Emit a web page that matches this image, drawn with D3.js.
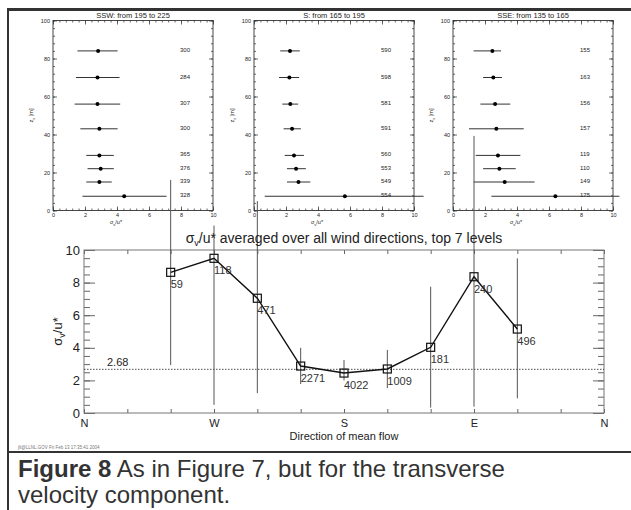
<!DOCTYPE html>
<html>
<head>
<meta charset="utf-8">
<script src="https://cdn.jsdelivr.net/npm/d3@7"></script>
<style>
  html, body { margin: 0; padding: 0; background: #fff; }
  svg { display: block; font-family: "Liberation Sans", Arial, Helvetica, sans-serif; }
</style>
</head>
<body>
<svg id="fig" width="631" height="510"></svg>
<script>
// ---- Main chart: sigma_v/u* versus direction of mean flow ----
const compassTicks = [360, 270, 180, 90, 0];
const compassLabels = ["N", "W", "S", "E", "N"];
const directions = [300, 270, 240, 210, 180, 150, 120, 90, 60];
const sigmaRatio = [8.63, 9.49, 7.04, 2.88, 2.45, 2.70, 4.03, 8.36, 5.15];
const sampleCounts = [59, 118, 471, 2271, 4022, 1009, 181, 240, 496];
const spreadLow = [2.94, 0.50, 1.22, 1.78, 2.00, 1.53, 0.33, 0.39, 0.90];
const spreadHigh = [14.3, 11.5, 13.0, 4.00, 3.25, 3.87, 7.75, 17.0, 9.49];
const overallMean = 2.68;
const yTicksMain = [0, 2, 4, 6, 8, 10];

// ---- Profile panels: sigma_v/u* at each measuring height ----
const panelTitles = ["SSW: from 195 to 225", "S: from 165 to 195", "SSE: from 135 to 165"];
const heights = [84, 70, 56, 43, 29, 22, 15, 7.5];
const sswMean = [2.82, 2.78, 2.78, 2.90, 2.90, 2.98, 2.90, 4.45];
const sswLow  = [1.53, 1.43, 1.35, 1.71, 2.08, 2.16, 2.08, 1.84];
const sswHigh = [4.04, 4.16, 4.20, 4.04, 3.80, 3.80, 3.67, 7.10];
const sswCount = [300, 284, 307, 300, 365, 376, 339, 328];
const sMean = [2.25, 2.21, 2.27, 2.38, 2.50, 2.63, 2.78, 5.68];
const sLow  = [1.64, 1.56, 1.77, 1.85, 1.92, 2.06, 2.06, 0.67];
const sHigh = [2.86, 2.82, 2.76, 2.93, 3.12, 3.24, 3.52, 10.6];
const sCount = [590, 598, 581, 591, 560, 553, 549, 554];
const sseMean = [2.46, 2.52, 2.63, 2.71, 2.81, 2.90, 3.23, 6.40];
const sseLow  = [1.29, 1.88, 1.71, 1.00, 1.42, 1.88, 1.29, 2.40];
const sseHigh = [3.00, 3.06, 3.58, 4.42, 4.21, 3.92, 5.10, 10.4];
const sseCount = [155, 163, 156, 157, 119, 110, 149, 175];
const panelXTicks = [0, 2, 4, 6, 8, 10];
const panelYTicks = [0, 20, 40, 60, 80, 100];

const svg = d3.select("#fig");
const ink = "#222";

svg.append("rect").attr("x", 0).attr("y", 0).attr("width", 631).attr("height", 510).attr("fill", "#fff");

// ---------- profile panels ----------
const panels = [
  { title: panelTitles[0], mean: sswMean, low: sswLow, high: sswHigh, count: sswCount, x0: 53 },
  { title: panelTitles[1], mean: sMean, low: sLow, high: sHigh, count: sCount, x0: 254 },
  { title: panelTitles[2], mean: sseMean, low: sseLow, high: sseHigh, count: sseCount, x0: 453 }
];

panels.forEach(p => {
  const px = d3.scaleLinear().domain([0, 10]).range([p.x0, p.x0 + 160]);
  const py = d3.scaleLinear().domain([0, 100]).range([210.5, 20.5]);
  const g = svg.append("g").attr("class", "panel");

  const minorX = d3.range(0, 10.001, 0.4);
  const minorY = d3.range(0, 100.001, 4);
  const tickStyle = sel => {
    sel.select(".domain").remove();
    sel.selectAll(".tick line").attr("stroke", "#444").attr("stroke-width", 0.8);
    sel.selectAll("text").attr("fill", ink).style("font-size", "5.5px");
  };

  // bottom / top axes
  g.append("g").attr("transform", `translate(0,${py(0)})`)
    .call(d3.axisBottom(px).tickValues(panelXTicks).tickSize(-4).tickPadding(3).tickFormat(d3.format("d")))
    .call(tickStyle);
  g.append("g").attr("transform", `translate(0,${py(0)})`)
    .call(d3.axisBottom(px).tickValues(minorX).tickSize(-2).tickFormat(""))
    .call(tickStyle);
  g.append("g").attr("transform", `translate(0,${py(100)})`)
    .call(d3.axisTop(px).tickValues(panelXTicks).tickSize(-4).tickFormat(""))
    .call(tickStyle);
  g.append("g").attr("transform", `translate(0,${py(100)})`)
    .call(d3.axisTop(px).tickValues(minorX).tickSize(-2).tickFormat(""))
    .call(tickStyle);
  // left / right axes
  g.append("g").attr("transform", `translate(${px(0)},0)`)
    .call(d3.axisLeft(py).tickValues(panelYTicks).tickSize(-4).tickPadding(3).tickFormat(d3.format("d")))
    .call(tickStyle);
  g.append("g").attr("transform", `translate(${px(0)},0)`)
    .call(d3.axisLeft(py).tickValues(minorY).tickSize(-2).tickFormat(""))
    .call(tickStyle);
  g.append("g").attr("transform", `translate(${px(10)},0)`)
    .call(d3.axisRight(py).tickValues(panelYTicks).tickSize(-4).tickFormat(""))
    .call(tickStyle);
  g.append("g").attr("transform", `translate(${px(10)},0)`)
    .call(d3.axisRight(py).tickValues(minorY).tickSize(-2).tickFormat(""))
    .call(tickStyle);

  g.append("rect")
    .attr("x", px(0)).attr("y", py(100))
    .attr("width", px(10) - px(0)).attr("height", py(0) - py(100))
    .attr("fill", "none").attr("stroke", "#333").attr("stroke-width", 0.9);

  g.append("text").attr("x", px(5)).attr("y", 17.5)
    .attr("text-anchor", "middle").attr("fill", ink).style("font-size", "7.5px")
    .text(p.title);

  const yl = g.append("text")
    .attr("transform", `translate(${p.x0 - 20},${py(50)}) rotate(-90)`)
    .attr("text-anchor", "middle").attr("fill", ink).style("font-size", "5.5px");
  yl.append("tspan").text("z");
  yl.append("tspan").attr("dy", 1.5).style("font-size", "4px").text("s");
  yl.append("tspan").attr("dy", -1.5).text(" [m]");

  const xl = g.append("text").attr("x", p.x0 + 63).attr("y", 224)
    .attr("text-anchor", "middle").attr("fill", ink).style("font-size", "5.5px");
  xl.append("tspan").text("σ");
  xl.append("tspan").attr("dy", 1.5).style("font-size", "4px").text("v");
  xl.append("tspan").attr("dy", -1.5).text("/u*");

  const rows = heights.map((h, i) => ({ h, m: p.mean[i], lo: p.low[i], hi: p.high[i], n: p.count[i] }));
  g.selectAll("line.bar").data(rows).join("line")
    .attr("x1", d => px(d.lo)).attr("x2", d => px(d.hi))
    .attr("y1", d => py(d.h)).attr("y2", d => py(d.h))
    .attr("stroke", "#333").attr("stroke-width", 1);
  g.selectAll("circle.dot").data(rows).join("circle")
    .attr("cx", d => px(d.m)).attr("cy", d => py(d.h)).attr("r", 2)
    .attr("fill", "#000");
  g.selectAll("text.cnt").data(rows).join("text")
    .attr("x", p.x0 + 127).attr("y", d => py(d.h) + 1)
    .attr("fill", ink).style("font-size", "6px")
    .text(d => d.n);
});

// ---------- main chart ----------
const x = d3.scaleLinear().domain([360, 0]).range([84, 604]);
const y = d3.scaleLinear().domain([0, 10]).range([413, 250]);
const dirTicks = d3.range(0, 361, 30);
const minorYMain = d3.range(0, 10.001, 0.5);
const main = svg.append("g");

const mainTickStyle = sel => {
  sel.select(".domain").remove();
  sel.selectAll(".tick line").attr("stroke", "#666").attr("stroke-width", 1);
  sel.selectAll("text").attr("fill", ink).style("font-size", "13px");
};

main.append("g").attr("transform", `translate(${x(360)},0)`)
  .call(d3.axisLeft(y).tickValues(yTicksMain).tickSize(-11).tickPadding(4).tickFormat(d3.format("d")))
  .call(mainTickStyle);
main.append("g").attr("transform", `translate(${x(360)},0)`)
  .call(d3.axisLeft(y).tickValues(minorYMain).tickSize(-6).tickFormat(""))
  .call(mainTickStyle);
main.append("g").attr("transform", `translate(${x(0)},0)`)
  .call(d3.axisRight(y).tickValues(yTicksMain).tickSize(-11).tickFormat(""))
  .call(mainTickStyle);
main.append("g").attr("transform", `translate(${x(0)},0)`)
  .call(d3.axisRight(y).tickValues(minorYMain).tickSize(-6).tickFormat(""))
  .call(mainTickStyle);
main.append("g").attr("transform", `translate(0,${y(0)})`)
  .call(d3.axisBottom(x).tickValues(dirTicks).tickSize(-4).tickPadding(6)
    .tickFormat(d => { const k = compassTicks.indexOf(d); return k >= 0 ? compassLabels[k] : ""; }))
  .call(mainTickStyle)
  .call(s => s.selectAll("text").style("font-size", "11px"));
main.append("g").attr("transform", `translate(0,${y(10)})`)
  .call(d3.axisTop(x).tickValues(dirTicks).tickSize(-4).tickFormat(""))
  .call(mainTickStyle);

main.append("rect")
  .attr("x", x(360)).attr("y", y(10))
  .attr("width", x(0) - x(360)).attr("height", y(0) - y(10))
  .attr("fill", "none").attr("stroke", "#777").attr("stroke-width", 1);

// overall mean
main.append("line")
  .attr("x1", x(360)).attr("x2", x(0))
  .attr("y1", y(overallMean)).attr("y2", y(overallMean))
  .attr("stroke", "#222").attr("stroke-width", 0.8).attr("stroke-dasharray", "1.5,1.5");
main.append("text").attr("x", x(360) + 23).attr("y", y(overallMean) - 3)
  .attr("fill", ink).style("font-size", "11px").text(overallMean.toFixed(2));

const pts = directions.map((d, i) => ({ d, v: sigmaRatio[i], n: sampleCounts[i], lo: spreadLow[i], hi: spreadHigh[i] }));

// spread of each direction bin
main.selectAll("line.spread").data(pts).join("line")
  .attr("x1", d => x(d.d)).attr("x2", d => x(d.d))
  .attr("y1", d => y(d.lo)).attr("y2", d => y(d.hi))
  .attr("stroke", "#555").attr("stroke-width", 1);

main.append("path").datum(pts)
  .attr("d", d3.line().x(d => x(d.d)).y(d => y(d.v)))
  .attr("fill", "none").attr("stroke", "#111").attr("stroke-width", 1.4);

main.selectAll("rect.mk").data(pts).join("rect")
  .attr("x", d => x(d.d) - 4).attr("y", d => y(d.v) - 4)
  .attr("width", 8).attr("height", 8)
  .attr("fill", "none").attr("stroke", "#111").attr("stroke-width", 1.2);

main.selectAll("text.n").data(pts).join("text")
  .attr("x", d => x(d.d)).attr("y", d => y(d.v) + 16)
  .attr("fill", "#333").style("font-size", "11px")
  .text(d => d.n);

// title
const title = main.append("text").attr("x", 344).attr("y", 243)
  .attr("text-anchor", "middle").attr("fill", ink).style("font-size", "14px");
title.append("tspan").text("σ");
title.append("tspan").attr("dy", 3).style("font-size", "9px").text("v");
title.append("tspan").attr("dy", -3).text("/u* averaged over all wind directions, top 7 levels");

// y label
const ylab = main.append("text")
  .attr("transform", `translate(62,${y(5)}) rotate(-90)`)
  .attr("text-anchor", "middle").attr("fill", ink).style("font-size", "13px");
ylab.append("tspan").text("σ");
ylab.append("tspan").attr("dy", 3).style("font-size", "9px").text("v");
ylab.append("tspan").attr("dy", -3).text("/u*");

// x label
main.append("text").attr("x", 344).attr("y", 440)
  .attr("text-anchor", "middle").attr("fill", ink).style("font-size", "11px")
  .text("Direction of mean flow");

// plot stamp
svg.append("text").attr("x", 18).attr("y", 449)
  .attr("fill", "#777").style("font-size", "4.5px")
  .text("jlt@LLNL.GOV Fri Feb 13 17:35:41 2004");

// figure frame lines
svg.append("line").attr("x1", 7).attr("x2", 631).attr("y1", 9.5).attr("y2", 9.5)
  .attr("stroke", "#333").attr("stroke-width", 3);
svg.append("line").attr("x1", 8).attr("x2", 8).attr("y1", 8).attr("y2", 510)
  .attr("stroke", "#333").attr("stroke-width", 2);
svg.append("line").attr("x1", 8).attr("x2", 631).attr("y1", 452).attr("y2", 452)
  .attr("stroke", "#333").attr("stroke-width", 2);

// caption
const cap = svg.append("text").attr("x", 18).attr("y", 477)
  .attr("fill", "#333").style("font-size", "24px");
cap.append("tspan").style("font-weight", "bold").text("Figure 8");
cap.append("tspan").text(" As in Figure 7, but for the transverse");
svg.append("text").attr("x", 18).attr("y", 503)
  .attr("fill", "#333").style("font-size", "24px")
  .text("velocity component.");
</script>
</body>
</html>
